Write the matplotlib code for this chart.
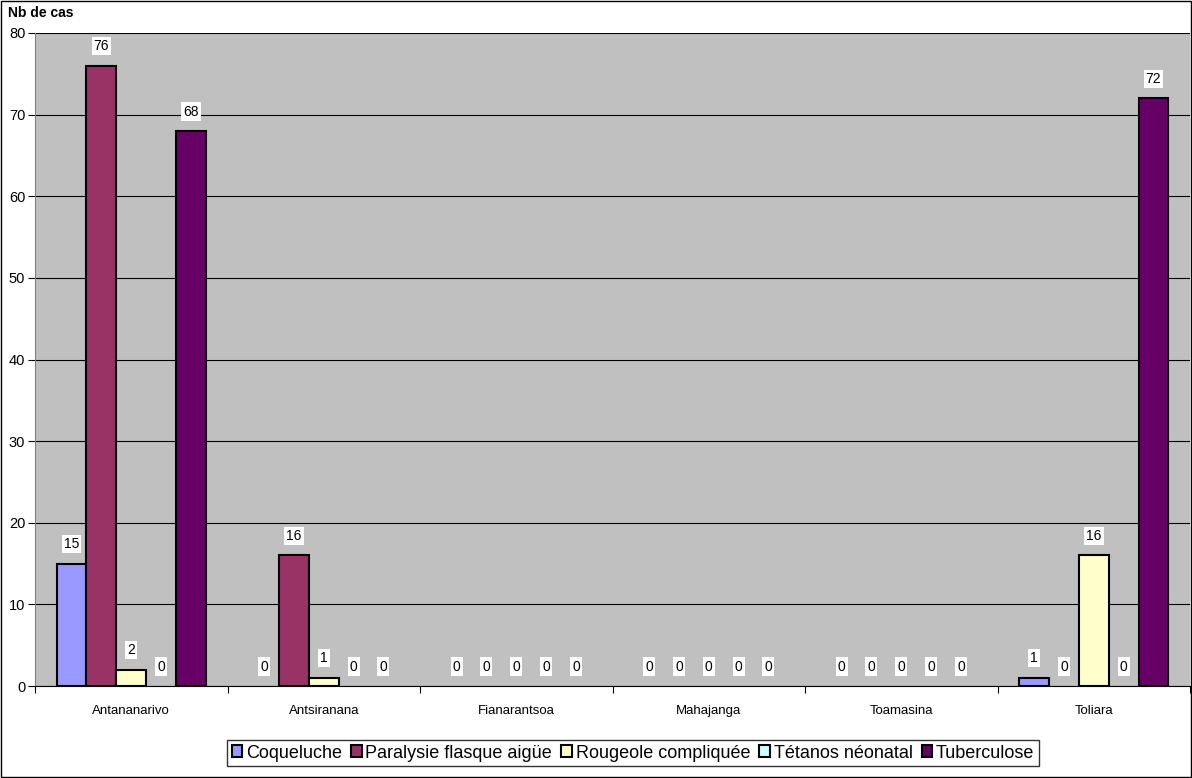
import numpy as np
import matplotlib.pyplot as plt
from matplotlib.patches import Patch

plt.rcParams['font.family'] = ['Liberation Sans', 'DejaVu Sans']

regions = ['Antananarivo', 'Antsiranana', 'Fianarantsoa', 'Mahajanga', 'Toamasina', 'Toliara']
coqueluche = [15, 0, 0, 0, 0, 1]
paralysie = [76, 16, 0, 0, 0, 0]
rougeole = [2, 1, 0, 0, 0, 16]
tetanos = [0, 0, 0, 0, 0, 0]
tuberculose = [68, 0, 0, 0, 0, 72]

series_names = ['Coqueluche', 'Paralysie flasque aigüe', 'Rougeole compliquée',
                'Tétanos néonatal', 'Tuberculose']
series = [coqueluche, paralysie, rougeole, tetanos, tuberculose]
colors = ['#9999FF', '#993366', '#FFFFCC', '#CCFFFF', '#660066']

fig = plt.figure(figsize=(11.92, 7.78), dpi=100)
# cadre autour du graphique
fig.patches.append(plt.Rectangle((0.0008, 0.0013), 0.9984, 0.9974, transform=fig.transFigure,
                                 fill=False, edgecolor='black', linewidth=1))
ax = fig.add_axes([35 / 1192, 1 - 686 / 778, 1155 / 1192, 653 / 778])
ax.set_facecolor('#C0C0C0')

x = np.arange(len(regions))
w = 0.155
for i, (vals, c) in enumerate(zip(series, colors)):
    pos = x + (i - 2) * w
    lw = [1.5 if v > 0 else 0 for v in vals]
    ax.bar(pos, vals, width=w, color=c, edgecolor='black', linewidth=lw, zorder=3)
    for p, v in zip(pos, vals):
        ax.annotate(str(v), (p, v), xytext=(0, 14), textcoords='offset points',
                    ha='center', va='center', fontsize=10, zorder=5,
                    bbox=dict(boxstyle='square,pad=0.15', fc='white', ec='none'))

ax.set_xlim(-0.5, len(regions) - 0.5)
ax.set_ylim(0, 80)
ax.set_yticks(np.arange(0, 81, 10))
ax.yaxis.grid(True, color='black', linewidth=0.8, zorder=0)
ax.set_axisbelow(True)
ax.set_xticks(np.arange(-0.5, len(regions), 1))
ax.set_xticklabels([])
ax.set_xticks(x, minor=True)
ax.set_xticklabels(regions, minor=True, fontsize=9.5)
ax.tick_params(axis='x', which='minor', length=0, pad=14)
ax.tick_params(axis='x', which='major', length=5, direction='out')
ax.tick_params(axis='y', labelsize=10.5, length=5, direction='out', pad=2)
for s in ['top', 'right']:
    ax.spines[s].set_visible(False)
ax.spines['left'].set_color('#808080')
ax.spines['bottom'].set_color('black')

fig.text(8 / 1192, 1 - 13 / 778, 'Nb de cas', fontsize=10, fontweight='bold', va='center')

handles = [Patch(facecolor=c, edgecolor='black', linewidth=1.5) for c in colors]
leg = fig.legend(handles, series_names, loc='center', bbox_to_anchor=(633 / 1192, 1 - 753 / 778),
                 ncol=5, fontsize=13, frameon=True, fancybox=False, edgecolor='black',
                 handlelength=0.6, handleheight=0.6, handletextpad=0.2, columnspacing=0.5,
                 borderpad=0.25)
leg.get_frame().set_linewidth(1)

fig.savefig('out.png', dpi=100)
